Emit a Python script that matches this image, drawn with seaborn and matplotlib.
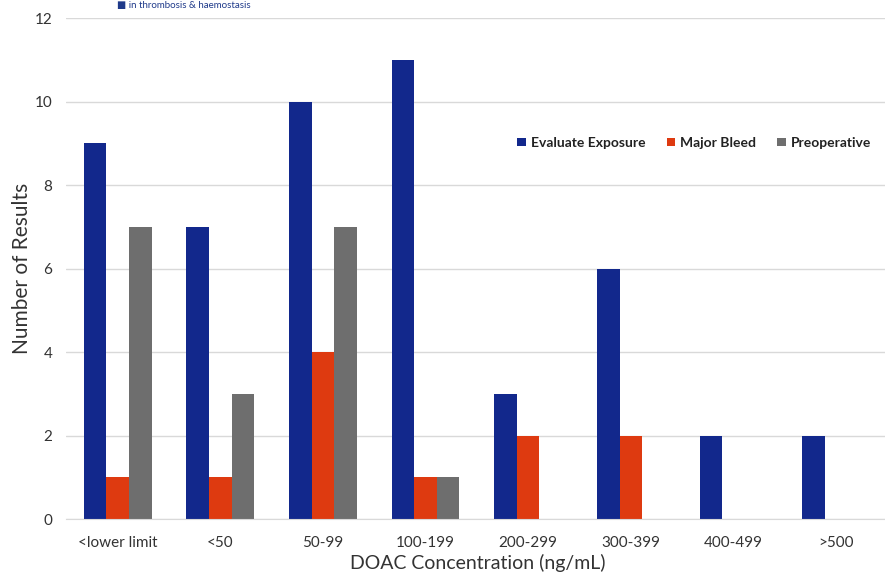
import matplotlib
matplotlib.use("Agg")
import matplotlib.pyplot as plt
import seaborn as sns
import pandas as pd

categories = ["<lower limit", "<50", "50-99", "100-199", "200-299", "300-399", "400-499", ">500"]
evaluate_exposure = [9, 7, 10, 11, 3, 6, 2, 2]
major_bleed = [1, 1, 4, 1, 2, 2, 0, 0]
preoperative = [7, 3, 7, 1, 0, 0, 0, 0]
series_names = ["Evaluate Exposure", "Major Bleed", "Preoperative"]
colors = ["#12288C", "#DE3A10", "#6E6E6E"]

rows = []
for name, vals in zip(series_names, [evaluate_exposure, major_bleed, preoperative]):
    for c, v in zip(categories, vals):
        rows.append({"Category": c, "Series": name, "Value": v})
df = pd.DataFrame(rows)

sns.set_style("white")
plt.rcParams["font.family"] = ["Lato", "DejaVu Sans"]

fig = plt.figure(figsize=(8.85, 5.74), dpi=100)
ax = fig.add_axes([0.075, 0.0958, 0.93, 0.8728])

sns.barplot(data=df, x="Category", y="Value", hue="Series", order=categories,
            hue_order=series_names, palette=colors, width=0.66, gap=0,
            saturation=1, linewidth=0, ax=ax, legend=True)

ax.set_ylim(0, 12)
ax.set_xlim(-0.5, 7.52)
ax.set_yticks(range(0, 13, 2))
ax.yaxis.grid(True, color="#D9D9D9", linewidth=1)
ax.set_axisbelow(True)
for s in ["top", "right", "left"]:
    ax.spines[s].set_visible(False)
ax.spines["bottom"].set_color("#D9D9D9")
ax.tick_params(axis="both", length=0, labelsize=11, colors="#333333")
ax.tick_params(axis="x", pad=12)
ax.tick_params(axis="y", pad=10)
ax.set_xlabel("DOAC Concentration (ng/mL)", fontsize=14, color="#333333", labelpad=3)
ax.set_ylabel("Number of Results", fontsize=15, color="#333333", labelpad=2)

leg = ax.legend(loc="center", bbox_to_anchor=(0.763, 0.7506), ncol=3, frameon=False,
                handlelength=0.6, handleheight=0.6, handletextpad=0.4, columnspacing=1.5,
                prop={"weight": "bold", "size": 10})
for t in leg.get_texts():
    t.set_color("#222222")

fig.text(0.132, 0.999, "\u25A0 in thrombosis & haemostasis", fontsize=7, color="#1F3A8A",
         va="top", ha="left")

fig.savefig("out.png", dpi=100)
